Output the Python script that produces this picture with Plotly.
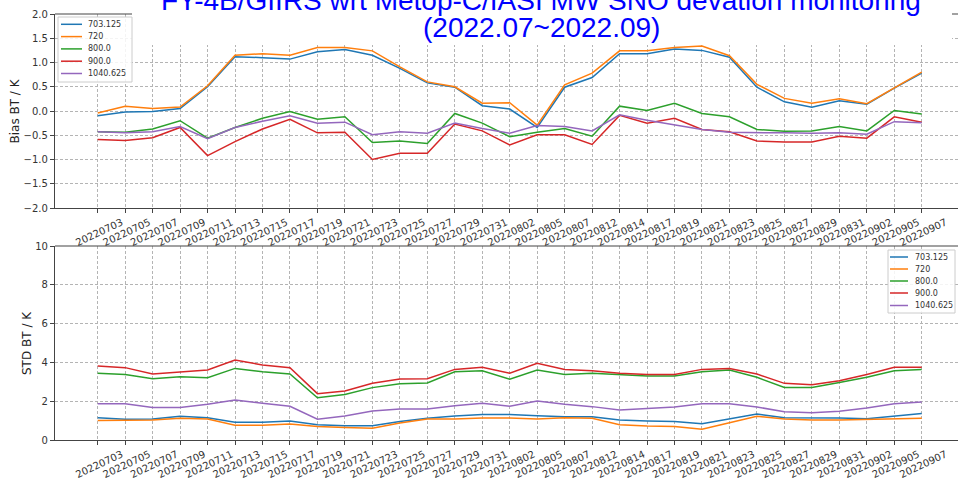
import plotly.graph_objects as go
from plotly.subplots import make_subplots

# ---- data -------------------------------------------------------------
dates = ["20220703", "20220705", "20220707", "20220709", "20220711", "20220713",
         "20220715", "20220717", "20220719", "20220721", "20220723", "20220725",
         "20220727", "20220729", "20220731", "20220802", "20220805", "20220807",
         "20220812", "20220814", "20220817", "20220819", "20220821", "20220823",
         "20220825", "20220827", "20220829", "20220831", "20220902", "20220905",
         "20220907"]

channels = ["703.125", "720", "800.0", "900.0", "1040.625"]
colors = ["#1f77b4", "#ff7f0e", "#2ca02c", "#d62728", "#9467bd"]

bias_703 = [-0.10, -0.02, -0.01, 0.05, 0.50, 1.12, 1.10, 1.07, 1.22, 1.27, 1.15, 0.88,
            0.58, 0.49, 0.11, 0.04, -0.34, 0.49, 0.69, 1.18, 1.18, 1.28, 1.25, 1.11,
            0.49, 0.19, 0.08, 0.21, 0.14, 0.47, 0.78]
bias_720 = [-0.04, 0.10, 0.05, 0.08, 0.52, 1.15, 1.18, 1.15, 1.31, 1.31, 1.24, 0.91,
            0.60, 0.50, 0.16, 0.17, -0.29, 0.54, 0.78, 1.24, 1.24, 1.31, 1.34, 1.14,
            0.55, 0.26, 0.16, 0.25, 0.15, 0.47, 0.80]
bias_800 = [-0.43, -0.44, -0.37, -0.20, -0.56, -0.34, -0.15, -0.01, -0.17, -0.12, -0.65,
            -0.62, -0.67, -0.05, -0.25, -0.53, -0.44, -0.36, -0.52, 0.10, 0.01, 0.16,
            -0.05, -0.12, -0.38, -0.42, -0.41, -0.32, -0.41, 0.01, -0.06]
bias_900 = [-0.59, -0.61, -0.55, -0.34, -0.92, -0.63, -0.37, -0.17, -0.45, -0.44, -1.00,
            -0.87, -0.87, -0.27, -0.41, -0.70, -0.49, -0.49, -0.69, -0.09, -0.25, -0.15,
            -0.38, -0.43, -0.62, -0.64, -0.64, -0.52, -0.56, -0.12, -0.23]
bias_1040 = [-0.43, -0.45, -0.43, -0.32, -0.57, -0.34, -0.21, -0.10, -0.25, -0.23, -0.49,
             -0.43, -0.46, -0.25, -0.36, -0.46, -0.30, -0.32, -0.41, -0.08, -0.19, -0.29,
             -0.38, -0.44, -0.44, -0.45, -0.46, -0.45, -0.48, -0.22, -0.24]

std_703 = [1.15, 1.07, 1.08, 1.22, 1.15, 0.91, 0.91, 0.98, 0.79, 0.74, 0.74, 0.95, 1.12,
           1.24, 1.32, 1.32, 1.25, 1.20, 1.20, 1.03, 0.98, 0.95, 0.84, 1.10, 1.34, 1.15,
           1.15, 1.13, 1.10, 1.22, 1.36]
std_720 = [1.00, 1.00, 1.03, 1.12, 1.08, 0.76, 0.76, 0.82, 0.69, 0.64, 0.60, 0.88, 1.08,
           1.08, 1.13, 1.13, 1.08, 1.15, 1.12, 0.79, 0.72, 0.70, 0.55, 0.89, 1.22, 1.08,
           1.03, 1.03, 1.05, 1.10, 1.12]
std_800 = [3.44, 3.38, 3.16, 3.26, 3.21, 3.69, 3.52, 3.40, 2.18, 2.34, 2.70, 2.90, 2.94,
           3.52, 3.57, 3.13, 3.61, 3.38, 3.44, 3.37, 3.30, 3.30, 3.52, 3.61, 3.23, 2.71,
           2.71, 2.96, 3.23, 3.57, 3.64]
std_900 = [3.81, 3.73, 3.40, 3.52, 3.61, 4.12, 3.87, 3.73, 2.39, 2.53, 2.92, 3.14, 3.16,
           3.64, 3.75, 3.44, 3.95, 3.64, 3.57, 3.44, 3.38, 3.38, 3.64, 3.69, 3.40, 2.92,
           2.85, 3.06, 3.38, 3.75, 3.75]
std_1040 = [1.87, 1.87, 1.67, 1.67, 1.84, 2.06, 1.89, 1.74, 1.07, 1.24, 1.49, 1.60, 1.60,
            1.77, 1.89, 1.74, 2.01, 1.84, 1.72, 1.55, 1.62, 1.70, 1.87, 1.87, 1.70, 1.46,
            1.41, 1.48, 1.65, 1.87, 1.96]

bias_series = [bias_703, bias_720, bias_800, bias_900, bias_1040]
std_series = [std_703, std_720, std_800, std_900, std_1040]

bias_ticks = [-2.0, -1.5, -1.0, -0.5, 0.0, 0.5, 1.0, 1.5, 2.0]
std_ticks = [0, 2, 4, 6, 8, 10]

title_line1 = "FY-4B/GIIRS wrt Metop-C/IASI MW SNO devation monitoring"
title_line2 = "(2022.07~2022.09)"

# ---- geometry helpers (page pixels -> paper fractions) -----------------
W, H = 958, 479
L, R, T, B = 55, 0, 14, 39
PW, PH = W - L - R, H - T - B


def fx(px):
    return (px - L) / PW


def fy(py):
    return (H - B - py) / PH


x_idx = list(range(len(dates)))

fig = make_subplots(rows=2, cols=1, vertical_spacing=0.0)
for k, name in enumerate(channels):
    fig.add_trace(go.Scatter(x=x_idx, y=bias_series[k], mode="lines", name=name,
                             line=dict(color=colors[k], width=1.5), showlegend=False),
                  row=1, col=1)
    fig.add_trace(go.Scatter(x=x_idx, y=std_series[k], mode="lines", name=name,
                             line=dict(color=colors[k], width=1.5), showlegend=False),
                  row=2, col=1)

tick_font = dict(family="DejaVu Sans", size=10, color="#333333")
grid_style = dict(showgrid=True, gridcolor="#b4b4b4", gridwidth=0.8, griddash="3px,2px",
                  zeroline=False, showline=True, linecolor="#444444", linewidth=1.2,
                  ticks="outside", ticklen=4, tickcolor="#444444", tickwidth=1,
                  tickfont=tick_font)

xr = [fx(55) * 0 - 1.554, 31.32]
for r in (1, 2):
    fig.update_xaxes(range=xr, tickmode="array", tickvals=x_idx, ticktext=dates,
                     tickangle=-25, ticklabelshift=24, ticklabelstandoff=0,
                     row=r, col=1, **grid_style)

fig.update_yaxes(range=[-2.0, 2.0], tickmode="array", tickvals=bias_ticks,
                 ticktext=[f"{v:.1f}".replace("-", "\u2212") for v in bias_ticks],
                 row=1, col=1, **grid_style)
fig.update_yaxes(range=[0, 10], tickmode="array", tickvals=std_ticks,
                 ticktext=[str(v) for v in std_ticks], row=2, col=1, **grid_style)

top_dom = [fy(208), 1.0]
bot_dom = [0.0, fy(246)]
fig.update_layout(yaxis=dict(domain=top_dom), yaxis2=dict(domain=bot_dom))

shapes = []
annotations = []

# top spines of both panels
for py in (14, 246):
    shapes.append(dict(type="line", xref="paper", yref="paper", x0=0, x1=1,
                       y0=fy(py), y1=fy(py), line=dict(color="#444444", width=1.2),
                       layer="above"))

# white banner behind the title
shapes.append(dict(type="rect", xref="paper", yref="paper", x0=fx(132), x1=fx(952),
                   y0=fy(45), y1=fy(-5), fillcolor="white", line=dict(width=0),
                   layer="above"))

# legends
def add_legend(box, rows, line_x, text_x):
    x0, y0, x1, y1 = box
    shapes.append(dict(type="rect", xref="paper", yref="paper", x0=fx(x0), x1=fx(x1),
                       y0=fy(y1), y1=fy(y0), fillcolor="rgba(255,255,255,0.85)",
                       line=dict(color="#cccccc", width=1), layer="above"))
    for k, name in enumerate(channels):
        shapes.append(dict(type="line", xref="paper", yref="paper",
                           x0=fx(line_x[0]), x1=fx(line_x[1]),
                           y0=fy(rows[k]), y1=fy(rows[k]),
                           line=dict(color=colors[k], width=1.5), layer="above"))
        annotations.append(dict(text=name, xref="paper", yref="paper", x=fx(text_x),
                                y=fy(rows[k]), xanchor="left", yanchor="middle",
                                showarrow=False,
                                font=dict(family="DejaVu Sans", size=8, color="#333333")))


add_legend((58, 17, 132, 82), [24.3, 36.6, 48.9, 61.2, 73.5], (61, 82), 86)
add_legend((888, 250, 955, 313), [257, 269, 281, 293, 305.5], (890, 908), 913)

# axis titles
annotations.append(dict(text="Bias BT / K", xref="paper", yref="paper", x=fx(14.5),
                        y=fy(111), textangle=-90, showarrow=False,
                        xanchor="center", yanchor="middle",
                        font=dict(family="DejaVu Sans", size=12, color="#222222")))
annotations.append(dict(text="STD BT / K", xref="paper", yref="paper", x=fx(27),
                        y=fy(343), textangle=-90, showarrow=False,
                        xanchor="center", yanchor="middle",
                        font=dict(family="DejaVu Sans", size=12, color="#222222")))

# two-line title
title_font = dict(family="Liberation Sans", size=28, color="#0000ff")
annotations.append(dict(text=title_line1, xref="paper", yref="paper", x=fx(541),
                        y=fy(0.5), xanchor="center", yanchor="middle", showarrow=False,
                        font=title_font))
annotations.append(dict(text=title_line2, xref="paper", yref="paper", x=fx(541.5),
                        y=fy(27.5), xanchor="center", yanchor="middle", showarrow=False,
                        font=title_font))

fig.update_layout(width=W, height=H, margin=dict(l=L, r=R, t=T, b=B, pad=0),
                  plot_bgcolor="white", paper_bgcolor="white", showlegend=False,
                  shapes=shapes, annotations=annotations)

fig.write_html("out.html")
